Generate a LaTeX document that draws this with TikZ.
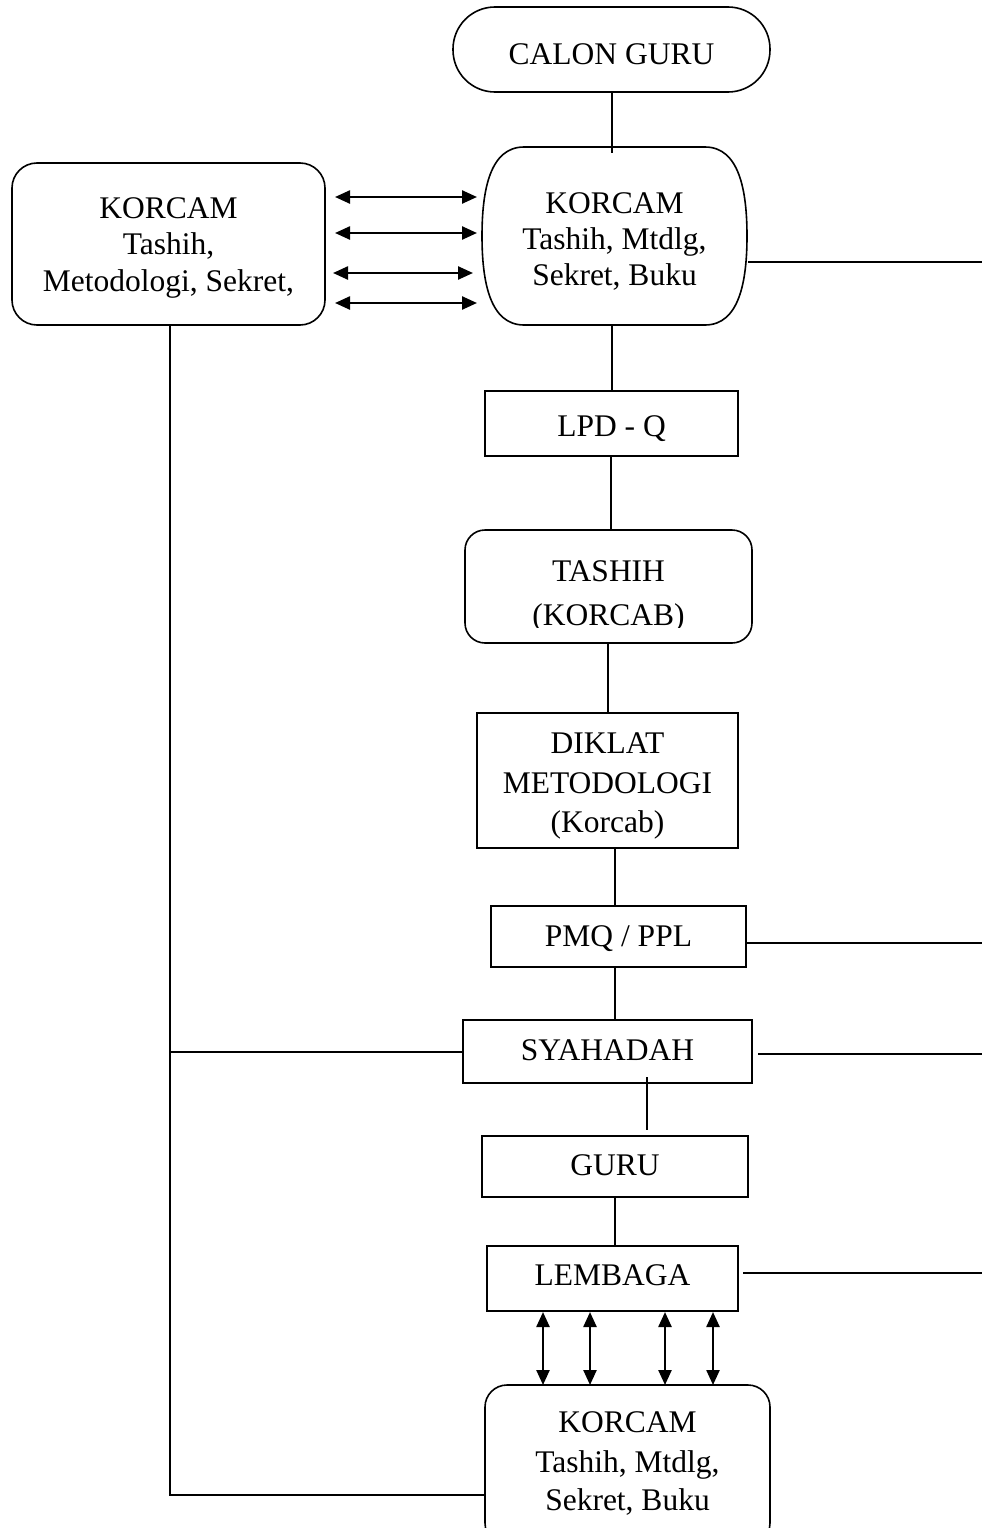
\documentclass[tikz,border=0pt]{standalone}
\usepackage{fontspec}
\setmainfont{Liberation Serif}
\usetikzlibrary{arrows.meta}
\begin{document}
\begin{tikzpicture}[x=1pt,y=-1pt,
  every node/.style={inner sep=0pt,outer sep=0pt},
  ln/.style={line width=1.6pt},
  boxnode/.style={draw,line width=1.6pt},
  roundbox/.style={draw,line width=1.6pt,rounded corners=#1},
  txt/.style={anchor=base,font=\fontsize{31.5}{37}\selectfont},
  dbl/.style={line width=2.4pt,{Triangle[length=15pt,width=13pt]}-{Triangle[length=15pt,width=13pt]}}
]
\useasboundingbox (0,0) rectangle (982,1528);
\fill[white] (0,0) rectangle (982,1528);

% ---- boxes ----
\node[roundbox=42pt,minimum width=317pt,minimum height=85pt] (calon) at (611.5,49.5) {};
\node[minimum width=265pt,minimum height=178pt] (korcamT) at (614.5,236) {};
\draw[ln] (524,147) -- (705,147) .. controls (739,147) and (747,190) .. (747,236)
  .. controls (747,282) and (739,325) .. (705,325) -- (524,325)
  .. controls (490,325) and (482,282) .. (482,236)
  .. controls (482,190) and (490,147) .. (524,147) -- cycle;
\node[roundbox=25pt,minimum width=313pt,minimum height=162pt] (korcamL) at (168.5,244) {};
\node[boxnode,minimum width=253pt,minimum height=65pt] (lpd) at (611.5,423.5) {};
\node[roundbox=20pt,minimum width=287pt,minimum height=113pt] (tashih) at (608.5,586.5) {};
\node[boxnode,minimum width=261pt,minimum height=135pt] (diklat) at (607.5,780.5) {};
\node[boxnode,minimum width=255pt,minimum height=61pt] (pmq) at (618.5,936.5) {};
\node[boxnode,minimum width=289pt,minimum height=63pt] (syahadah) at (607.5,1051.5) {};
\node[boxnode,minimum width=266pt,minimum height=61pt] (guru) at (615,1166.5) {};
\node[boxnode,minimum width=251pt,minimum height=65pt] (lembaga) at (612.5,1278.5) {};
\node[roundbox=22pt,minimum width=285pt,minimum height=160pt] (korcamB) at (627.5,1465) {};

% ---- texts ----
\node[txt] (calonT) at (611.5,64) {CALON GURU};
\node[txt] (korcamT1) at (614.5,213) {KORCAM};
\node[txt] (korcamT2) at (614.5,249) {Tashih, Mtdlg,};
\node[txt] (korcamT3) at (614.5,285) {Sekret, Buku};
\node[txt] (korcamL1) at (168.5,218) {KORCAM};
\node[txt] (korcamL2) at (168.5,254) {Tashih,};
\node[txt] (korcamL3) at (168.5,291) {Metodologi, Sekret,};
\node[txt] (lpdT) at (611.5,436) {LPD - Q};
\node[txt] (tashih1) at (608.5,581) {TASHIH};
\begin{scope}
\clip (466,600) rectangle (751,627);
\node[txt] (tashih2) at (608.5,625) {(KORCAB)};
\end{scope}
\node[txt] (diklat1) at (607.5,753) {DIKLAT};
\node[txt] (diklat2) at (607.5,793) {METODOLOGI};
\node[txt] (diklat3) at (607.5,832) {(Korcab)};
\node[txt] (pmqT) at (618.5,946) {PMQ / PPL};
\node[txt] (syahadahT) at (607.5,1060) {SYAHADAH};
\node[txt] (guruT) at (615,1175) {GURU};
\node[txt] (lembagaT) at (612.5,1285) {LEMBAGA};
\node[txt] (korcamB1) at (627.5,1432) {KORCAM};
\node[txt] (korcamB2) at (627.5,1472) {Tashih, Mtdlg,};
\node[txt] (korcamB3) at (627.5,1510) {Sekret, Buku};

% ---- vertical connectors ----
\draw[ln] (calon.south -| 612,0) -- (612,153);
\draw[ln] (612,325) -- (lpd.north -| 612,0);
\draw[ln] (lpd.south -| 611,0) -- (tashih.north -| 611,0);
\draw[ln] (tashih.south -| 608,0) -- (diklat.north -| 608,0);
\draw[ln] (diklat.south -| 615,0) -- (pmq.north -| 615,0);
\draw[ln] (pmq.south -| 615,0) -- (syahadah.north -| 615,0);
\draw[ln] (647,1077) -- (647,1130);
\draw[ln] (guru.south -| 615,0) -- (lembaga.north -| 615,0);

% ---- left bus ----
\coordinate (busTop) at (korcamL.south -| 170,0);
\coordinate (busMid) at (170,1052);
\coordinate (busBot) at (170,1495);
\draw[ln] (busTop) -- (busBot) -- (korcamB.west |- busBot);
\draw[ln] (busMid) -- (syahadah.west |- busMid);

% ---- right stubs ----
\coordinate (r1) at (982,262);
\coordinate (r2) at (982,943);
\coordinate (r3) at (982,1054);
\coordinate (r4) at (982,1273);
\draw[ln] (748,262) -- (r1);
\draw[ln] (pmq.east |- r2) -- (r2);
\draw[ln] (758,1054) -- (r3);
\draw[ln] (743,1273) -- (r4);

% ---- horizontal double arrows ----
\draw[dbl] (335,197) -- (477,197);
\draw[dbl] (335,233) -- (477,233);
\draw[dbl] (333,273) -- (473,273);
\draw[dbl] (335,303) -- (477,303);

% ---- vertical double arrows ----
\foreach \xx in {543,590,665,713}
  \draw[dbl] (\xx,1312) -- (\xx,1385);
\end{tikzpicture}
\end{document}
